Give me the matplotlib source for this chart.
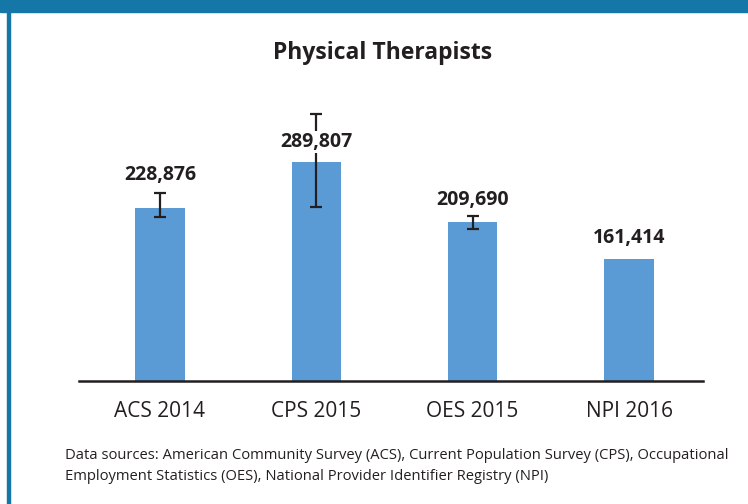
import matplotlib
matplotlib.use("Agg")
import matplotlib.pyplot as plt
from matplotlib.patches import Rectangle

plt.rcParams['font.family'] = ['Open Sans', 'DejaVu Sans']

# data
categories = ["ACS 2014", "CPS 2015", "OES 2015", "NPI 2016"]
values = [228876, 289807, 209690, 161414]
err_low = [11900, 59800, 8400, 0]
err_high = [19300, 63400, 8300, 0]
label_offsets = [33, 20, 22, 21]  # pixels above bar top

title = "Physical Therapists"
source = ("Data sources: American Community Survey (ACS), Current Population Survey (CPS), Occupational\n"
          "Employment Statistics (OES), National Provider Identifier Registry (NPI)")

bar_color = "#5b9bd5"
dark = "#231f20"
frame_blue = "#1577a7"

fig = plt.figure(figsize=(7.48, 5.04), dpi=100)
fig.patch.set_facecolor("white")

# top band and left border
fig.add_artist(Rectangle((0, 1 - 12 / 504), 1, 12 / 504, transform=fig.transFigure,
                         color=frame_blue, zorder=0))
fig.add_artist(Rectangle((7 / 748, 0), 3 / 748, 1, transform=fig.transFigure,
                         color=frame_blue, zorder=0))

ax = fig.add_axes([79.3 / 748, (504 - 381.3) / 504, 624 / 748, 321.3 / 504])
x = range(len(categories))
ax.bar(x, values, width=0.314, color=bar_color, zorder=2)
ax.errorbar(x[:3], values[:3], yerr=[err_low[:3], err_high[:3]], fmt="none",
            ecolor=dark, elinewidth=1.6, capsize=4.5, capthick=1.6, zorder=3)

for i, v in enumerate(values):
    ax.annotate(f"{v:,}", (i, v), xytext=(0, label_offsets[i]), textcoords="offset pixels",
                ha="center", va="center", fontsize=14, fontweight="bold", color=dark,
                bbox=dict(facecolor="white", edgecolor="none", pad=0.5), zorder=4)

ax.set_xlim(-0.516, 3.475)
ax.set_ylim(0, 424100)
ax.set_xticks(list(x))
ax.set_xticklabels(categories, fontsize=15, color=dark)
ax.tick_params(axis="x", length=0, pad=14)
ax.set_yticks([])
for s in ["top", "right", "left"]:
    ax.spines[s].set_visible(False)
ax.spines["bottom"].set_color(dark)
ax.spines["bottom"].set_linewidth(1.8)
ax.patch.set_alpha(0)

fig.text(383 / 748, 1 - 53 / 504, title, ha="center", va="center",
         fontsize=16.5, fontweight="bold", color=dark)
fig.text(65 / 748, 1 - 466 / 504, source, ha="left", va="center",
         fontsize=10.65, color=dark, linespacing=1.55)

fig.savefig("out.png", dpi=100)
